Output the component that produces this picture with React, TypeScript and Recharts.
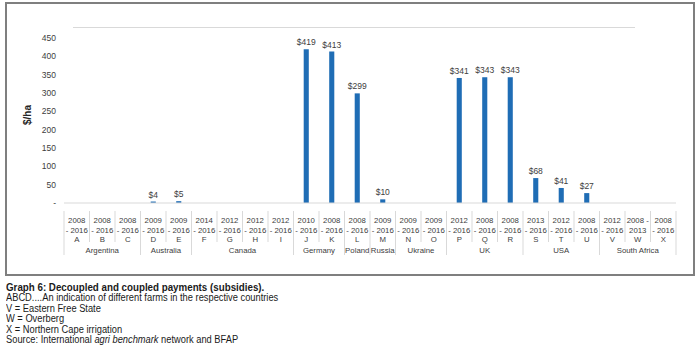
import React from "react";
import { Bar, BarChart, LabelList, XAxis, YAxis } from "recharts";

const farms = ["A", "B", "C", "D", "E", "F", "G", "H", "I", "J", "K", "L", "M", "N", "O", "P", "Q", "R", "S", "T", "U", "V", "W", "X"];
const periodTop = ["2008", "2008", "2008", "2009", "2009", "2014", "2012", "2012", "2012", "2010", "2008", "2008", "2009", "2009", "2009", "2012", "2008", "2008", "2013", "2012", "2008", "2012", "2008 -", "2008"];
const periodBottom = ["- 2016", "- 2016", "- 2016", "- 2016", "- 2016", "- 2016", "- 2016", "- 2016", "- 2016", "- 2016", "- 2016", "- 2016", "- 2016", "- 2016", "- 2016", "- 2016", "- 2016", "- 2016", "- 2016", "- 2016", "- 2016", "- 2016", "2013", "- 2016"];
const payments = [0, 0, 0, 4, 5, 0, 0, 0, 0, 419, 413, 299, 10, 0, 0, 341, 343, 343, 68, 41, 27, 0, 0, 0];

const countries = ["Argentina", "Australia", "Canada", "Germany", "Poland", "Russia", "Ukraine", "UK", "USA", "South Africa"];
const countrySizes = [3, 2, 4, 2, 1, 1, 2, 3, 3, 3];

const yTicks = [0, 50, 100, 150, 200, 250, 300, 350, 400, 450];

const CHART_W = 700;
const CHART_H = 280;
const MARGIN = { top: 27, right: 24, left: 0, bottom: 27 };
const Y_W = 64;
const BAND = (CHART_W - MARGIN.left - MARGIN.right - Y_W) / farms.length;

const data = farms.map((farm, i) => ({
    farm,
    top: periodTop[i],
    bottom: periodBottom[i],
    value: payments[i],
}));

// index where each country group starts
const groupStarts: number[] = [];
countrySizes.reduce((acc, n) => {
    groupStarts.push(acc);
    return acc + n;
}, 0);

const textColor = "#404040";
const lineColor = "#d9d9d9";
const chartFont = "'Liberation Sans', Arial, sans-serif";
const tickSize = 7.8;

function FarmTick(props: any) {
    const { x, y, payload, index } = props;
    const i = index as number;
    const row = data[i];
    const left = x - BAND / 2;
    const groupIdx = groupStarts.indexOf(i);
    const isStart = groupIdx >= 0;
    const isLast = i === farms.length - 1;
    return (
        <g>
            <line
                x1={left}
                x2={left}
                y1={y}
                y2={y + (isStart ? 44 : 31)}
                stroke={lineColor}
                strokeWidth={1}
            />
            {isLast && (
                <line x1={left + BAND} x2={left + BAND} y1={y} y2={y + 44} stroke={lineColor} strokeWidth={1} />
            )}
            <text x={x} y={y + 12} textAnchor="middle" fontSize={tickSize} fill={textColor} fontFamily={chartFont}>
                {row.top}
            </text>
            <text x={x} y={y + 22} textAnchor="middle" fontSize={tickSize} fill={textColor} fontFamily={chartFont}>
                {row.bottom}
            </text>
            <text x={x} y={y + 31} textAnchor="middle" fontSize={tickSize} fill={textColor} fontFamily={chartFont}>
                {payload.value}
            </text>
            {isStart && (
                <text
                    x={left + (countrySizes[groupIdx] * BAND) / 2}
                    y={y + 42}
                    textAnchor="middle"
                    fontSize={tickSize}
                    fill={textColor}
                    fontFamily={chartFont}
                >
                    {countries[groupIdx]}
                </text>
            )}
        </g>
    );
}

export default function App() {
    return (
        <div
            style={{
                position: "absolute",
                left: 0,
                top: 0,
                width: 700,
                height: 355,
                background: "#ffffff",
                overflow: "hidden",
            }}
        >
            <div
                style={{
                    position: "absolute",
                    left: 5,
                    top: 2,
                    width: 686,
                    height: 270,
                    border: "2px solid #7f7f7f",
                }}
            />
            <div
                style={{
                    position: "absolute",
                    left: 73,
                    top: 27,
                    width: 562,
                    height: 1,
                    background: lineColor,
                }}
            />
            <div style={{ position: "absolute", left: 0, top: 0 }}>
                <BarChart width={CHART_W} height={CHART_H} data={data} margin={MARGIN} barCategoryGap="60%">
                    <XAxis
                        dataKey="farm"
                        interval={0}
                        height={50}
                        axisLine={{ stroke: lineColor }}
                        tickLine={false}
                        tick={<FarmTick />}
                    />
                    <YAxis
                        width={Y_W}
                        domain={[0, 480]}
                        ticks={yTicks}
                        axisLine={false}
                        tickLine={false}
                        tickMargin={2}
                        tick={{ fontSize: 8.5, fill: textColor, fontFamily: chartFont }}
                        tickFormatter={(v: number) => (v === 0 ? "-" : String(v))}
                        label={{
                            value: "$/ha",
                            angle: -90,
                            position: "insideLeft",
                            dx: 22,
                            style: {
                                textAnchor: "middle",
                                fill: "#262626",
                                fontSize: 10,
                                fontWeight: 700,
                                fontFamily: chartFont,
                            },
                        }}
                    />
                    <Bar dataKey="value" fill="#1f6db5" isAnimationActive={false}>
                        <LabelList
                            dataKey="value"
                            position="top"
                            offset={4}
                            formatter={(v: any) => (v > 0 ? `$${v}` : "")}
                            style={{ fontSize: 8.5, fill: textColor, fontFamily: chartFont }}
                        />
                    </Bar>
                </BarChart>
            </div>
            <div
                style={{
                    position: "absolute",
                    left: 6,
                    top: 282,
                    fontFamily: "'Liberation Sans', Arial, sans-serif",
                    fontSize: 10,
                    lineHeight: "10.4px",
                    color: "#1a1a1a",
                    whiteSpace: "nowrap",
                    transform: "scaleX(0.93)",
                    transformOrigin: "left top",
                }}
            >
                <div style={{ fontWeight: 700, fontSize: 10.5, marginBottom: 1 }}>
                    Graph 6: Decoupled and coupled payments (subsidies).
                </div>
                <div>ABCD....An indication of different farms in the respective countries</div>
                <div>V = Eastern Free State</div>
                <div>W = Overberg</div>
                <div>X = Northern Cape irrigation</div>
                <div>
                    Source: International <i>agri benchmark</i> network and BFAP
                </div>
            </div>
        </div>
    );
}
